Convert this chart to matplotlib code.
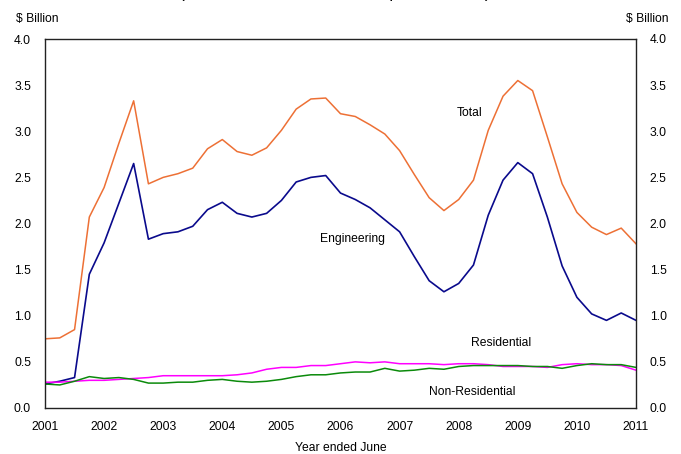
import numpy as np
import matplotlib
matplotlib.use("Agg")
import matplotlib.pyplot as plt

plt.rcParams["font.family"] = ["Liberation Sans", "DejaVu Sans"]

# quarterly, year ended June, 2001 to 2011
years = np.arange(41) * 0.25 + 2001

total = [0.75, 0.76, 0.85, 2.07, 2.39, 2.87, 3.33, 2.43, 2.50, 2.54, 2.60, 2.81, 2.91, 2.78,
         2.74, 2.82, 3.01, 3.24, 3.35, 3.36, 3.19, 3.16, 3.07, 2.97, 2.79, 2.53, 2.28, 2.14,
         2.26, 2.47, 3.01, 3.38, 3.55, 3.44, 2.94, 2.43, 2.12, 1.96, 1.88, 1.95, 1.78]

engineering = [0.26, 0.29, 0.33, 1.45, 1.79, 2.22, 2.65, 1.83, 1.89, 1.91, 1.97, 2.15, 2.23, 2.11,
               2.07, 2.11, 2.25, 2.45, 2.50, 2.52, 2.33, 2.26, 2.17, 2.04, 1.91, 1.64, 1.38, 1.26,
               1.35, 1.55, 2.09, 2.47, 2.66, 2.54, 2.07, 1.54, 1.20, 1.02, 0.95, 1.03, 0.95]

residential = [0.28, 0.28, 0.29, 0.30, 0.30, 0.31, 0.32, 0.33, 0.35, 0.35, 0.35, 0.35, 0.35, 0.36,
               0.38, 0.42, 0.44, 0.44, 0.46, 0.46, 0.48, 0.50, 0.49, 0.50, 0.48, 0.48, 0.48, 0.47,
               0.48, 0.48, 0.47, 0.45, 0.45, 0.45, 0.44, 0.47, 0.48, 0.47, 0.47, 0.46, 0.41]

non_residential = [0.26, 0.25, 0.29, 0.34, 0.32, 0.33, 0.31, 0.27, 0.27, 0.28, 0.28, 0.30, 0.31, 0.29,
                   0.28, 0.29, 0.31, 0.34, 0.36, 0.36, 0.38, 0.39, 0.39, 0.43, 0.40, 0.41, 0.43, 0.42,
                   0.45, 0.46, 0.46, 0.46, 0.46, 0.45, 0.45, 0.43, 0.46, 0.48, 0.47, 0.47, 0.44]

year_ticks = list(range(2001, 2012))
y_ticks = [0.0, 0.5, 1.0, 1.5, 2.0, 2.5, 3.0, 3.5, 4.0]

fig = plt.figure(figsize=(6.81, 4.54), dpi=100)
ax = fig.add_axes([45 / 681, 1 - 408 / 454, 591 / 681, 369 / 454])

ax.plot(years, total, color="#ED7035", lw=1.1)
ax.plot(years, engineering, color="#0A0A8C", lw=1.2)
ax.plot(years, residential, color="#FF00FF", lw=1.1)
ax.plot(years, non_residential, color="#0B8A0B", lw=1.1)

ax.set_xlim(2001, 2011)
ax.set_ylim(0, 4)
ax.set_xticks(year_ticks)
ax.set_yticks(y_ticks)
ax.set_yticklabels([f"{v:.1f}" for v in y_ticks])
ax.tick_params(axis="both", length=0, labelsize=8.7, colors="black")
ax.tick_params(axis="y", pad=10)
ax.tick_params(axis="x", pad=9)
for s in ax.spines.values():
    s.set_color("#222222")
    s.set_linewidth(1.0)

ax2 = ax.twinx()
ax2.set_ylim(0, 4)
ax2.set_yticks(y_ticks)
ax2.set_yticklabels([f"{v:.1f}" for v in y_ticks])
ax2.tick_params(axis="y", length=0, labelsize=8.7, pad=10)
for s in ax2.spines.values():
    s.set_visible(False)

# series labels
ax.text(2008.18, 3.2, "Total", fontsize=8.7, ha="center", va="center")
ax.text(2006.2, 1.83, "Engineering", fontsize=8.7, ha="center", va="center")
ax.text(2008.72, 0.71, "Residential", fontsize=8.7, ha="center", va="center")
ax.text(2008.23, 0.17, "Non-Residential", fontsize=8.7, ha="center", va="center")

ax.set_xlabel("Year ended June", fontsize=8.7, labelpad=7)

fig.text(37 / 681, 1 - 19 / 454, "$ Billion", fontsize=8.7, ha="center", va="center")
fig.text(647 / 681, 1 - 19 / 454, "$ Billion", fontsize=8.7, ha="center", va="center")

# title sits mostly above the visible area in the source image
fig.text(335 / 681, 1.004, "(Total work done in current prices, trend)", fontsize=12.5,
         ha="center", va="baseline")

fig.savefig("out.png", dpi=100)
